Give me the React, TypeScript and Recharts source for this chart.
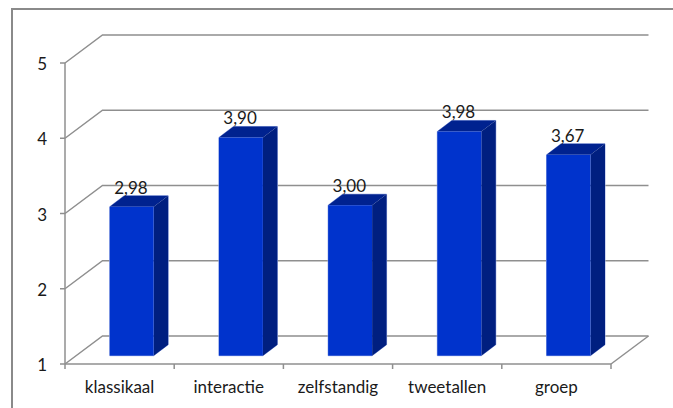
import { BarChart, Bar, XAxis, YAxis, CartesianGrid, LabelList } from 'recharts'

const categories = ['klassikaal', 'interactie', 'zelfstandig', 'tweetallen', 'groep']
const scores = [2.98, 3.9, 3.0, 3.98, 3.67]
const yTicks = [1, 2, 3, 4, 5]

const data = categories.map((name, i) => ({ name, score: scores[i] }))

const FONT = 'Lato, "Open Sans", sans-serif'
const LINE = '#8f8f8f'
const TEXT = '#1a1a1a'

// 3D look: back wall offset, bar offset from the front edge, bar depth
const WALL_DX = 37.5
const WALL_DY = 28
const BAR_DX = 11.7
const BAR_DY = 8.3
const DEPTH_DX = 14.5
const DEPTH_DY = 11
const BAND = 109.2

function GridLine(props: any) {
  const { x1, x2, y1, index } = props
  return (
    <g key={`grid-${index}`}>
      <polyline
        points={`${x1},${y1} ${x1 + WALL_DX},${y1 - WALL_DY} ${x2 + WALL_DX},${y1 - WALL_DY}`}
        fill="none"
        stroke={LINE}
        strokeWidth={1.5}
      />
      {index === 0 && (
        <line x1={x2} y1={y1} x2={x2 + WALL_DX} y2={y1 - WALL_DY} stroke={LINE} strokeWidth={1.5} />
      )}
    </g>
  )
}

function Bar3D(props: any) {
  const { x, y, width, height } = props
  const left = x + BAR_DX
  const top = y - BAR_DY
  const right = left + width
  const bottom = top + height
  return (
    <g>
      <path
        d={`M${left},${top} L${left + DEPTH_DX},${top - DEPTH_DY} L${right + DEPTH_DX},${top - DEPTH_DY} L${right + DEPTH_DX},${bottom - DEPTH_DY} L${right},${bottom} L${left},${bottom} Z`}
        fill="none"
        stroke="#9fb0e6"
        strokeWidth={1}
      />
      <path
        d={`M${left},${top} L${left + DEPTH_DX},${top - DEPTH_DY} L${right + DEPTH_DX},${top - DEPTH_DY} L${right},${top} Z`}
        fill="#00228f"
      />
      <path
        d={`M${right},${top} L${right + DEPTH_DX},${top - DEPTH_DY} L${right + DEPTH_DX},${bottom - DEPTH_DY} L${right},${bottom} Z`}
        fill="#001f80"
      />
      <rect x={left} y={top} width={width} height={height} fill="#0033cc" />
    </g>
  )
}

function BarValue(props: any) {
  const { x, y, width, value } = props
  return (
    <text
      x={x + BAR_DX + width / 2 - 0.8}
      y={y - BAR_DY - 13}
      textAnchor="middle"
      fontFamily={FONT}
      fontSize={17}
      fill={TEXT}
    >
      {value.toFixed(2).replace('.', ',')}
    </text>
  )
}

function CategoryTick(props: any) {
  const { x, y, payload, index } = props
  const tickX = x - BAND / 2
  return (
    <g>
      <line x1={tickX} y1={y} x2={tickX} y2={y + 5} stroke={LINE} strokeWidth={1.5} />
      {index === categories.length - 1 && (
        <line x1={tickX + BAND} y1={y} x2={tickX + BAND} y2={y + 5} stroke={LINE} strokeWidth={1.5} />
      )}
      <text x={x} y={y + 29} textAnchor="middle" fontFamily={FONT} fontSize={17} fill={TEXT}>
        {payload.value}
      </text>
    </g>
  )
}

function ValueTick(props: any) {
  const { x, y, payload } = props
  return (
    <text x={x} y={y + 7} textAnchor="end" fontFamily={FONT} fontSize={17} fill={TEXT}>
      {payload.value}
    </text>
  )
}

export default function App() {
  return (
    <div style={{ position: 'absolute', left: 0, top: 0, width: 673, height: 408, background: '#fff', overflow: 'hidden' }}>
      <div
        style={{
          position: 'absolute',
          left: 11,
          top: 8,
          width: 670,
          height: 410,
          borderTop: '2px solid #8a8a8a',
          borderLeft: '2px solid #8a8a8a',
        }}
      />
      <BarChart
        width={673}
        height={408}
        data={data}
        margin={{ top: 63, right: 62, bottom: 0, left: 0 }}
        style={{ position: 'absolute', left: 0, top: 0 }}
      >
        <CartesianGrid vertical={false} horizontal={GridLine} />
        <XAxis
          dataKey="name"
          interval={0}
          height={44}
          stroke={LINE}
          strokeWidth={1.5}
          tickLine={false}
          tickSize={0}
          tickMargin={0}
          tick={CategoryTick}
        />
        <YAxis
          domain={[1, 5]}
          ticks={yTicks}
          width={65}
          stroke={LINE}
          strokeWidth={1.5}
          tickSize={5}
          tickMargin={13}
          tick={ValueTick}
        />
        <Bar dataKey="score" barSize={44} shape={Bar3D} isAnimationActive={false}>
          <LabelList dataKey="score" content={BarValue} />
        </Bar>
      </BarChart>
    </div>
  )
}
